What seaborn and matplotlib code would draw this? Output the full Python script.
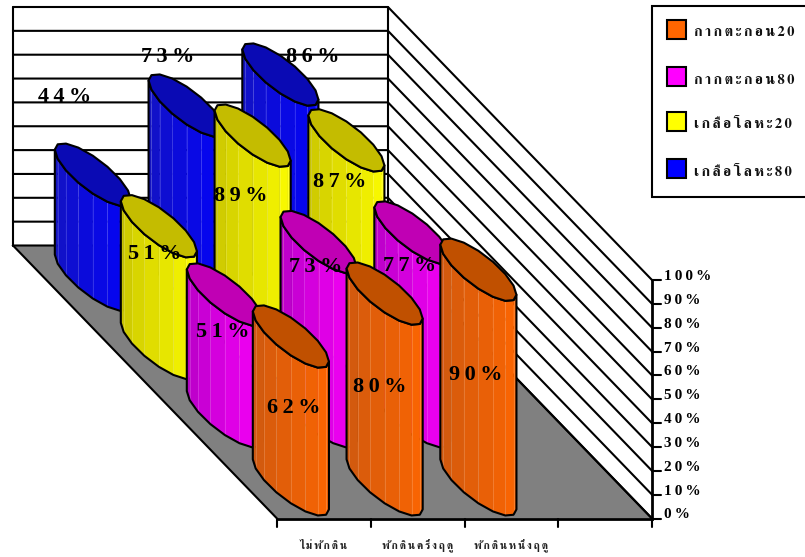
import math
import numpy as np
import matplotlib
matplotlib.use("Agg")
import matplotlib.pyplot as plt
from matplotlib.patches import Polygon, Rectangle
import seaborn as sns

# Data: percentage per treatment, one list per series, back row first
categories = ["ไม่พักดิน", "พักดินครึ่งฤดู", "พักดินหนึ่งฤดู"]
series_names = ["เกลือโลหะ80", "เกลือโลหะ20", "กากตะกอน80", "กากตะกอน20"]
salt80 = [44, 73, 86]
salt20 = [51, 89, 87]
sludge80 = [51, 73, 77]
sludge20 = [62, 80, 90]
series_values = [salt80, salt20, sludge80, sludge20]
y_ticks = [0, 10, 20, 30, 40, 50, 60, 70, 80, 90, 100]

base_colors = ["#0000FF", "#FFFF00", "#FF00FF", "#FF6600"]
top_colors = ["#0A0AB4", "#C4BC00", "#C000B4", "#C05000"]
dark_colors = ["#1414C0", "#C8C400", "#B400C4", "#CC5810"]

# Oblique projection of (category, depth, percent) onto figure pixels
X_FRONT, Y_FRONT = 277.0, 518.5
CAT_W, DEPTH_DX, DEPTH_DY = 93.75, 66.0, 68.25
PX_PER_PCT = 2.385
N_CATS, N_ROWS = 4, 4
RADIUS_U, RADIUS_D = 0.245, 0.46


def project(u, d, v=0.0):
    return (X_FRONT + u * CAT_W - d * DEPTH_DX,
            Y_FRONT - d * DEPTH_DY - v * PX_PER_PCT)


def tracked(text):
    """Open up letter spacing, leaving Thai vowel and tone marks on their base letter."""
    marks = {0x0E31} | set(range(0x0E34, 0x0E3B)) | set(range(0x0E47, 0x0E4F))
    out = ""
    for ch in text:
        if out and ord(ch) not in marks:
            out += "\u2009"
        out += ch
    return out


sns.set_theme(style="white")
SERIF = ["Liberation Serif", "DejaVu Serif"]
THAI = ["FreeSerif", "Liberation Serif", "DejaVu Sans"]
plt.rcParams["font.family"] = SERIF

fig = plt.figure(figsize=(8.05, 5.57), dpi=100, facecolor="white")
ax = fig.add_axes([0, 0, 1, 1])
ax.set_xlim(0, 805)
ax.set_ylim(557, 0)
ax.axis("off")

LINE = 1.5

# Floor
ax.add_patch(Polygon([project(0, N_ROWS), project(N_CATS, N_ROWS),
                      project(N_CATS, 0), project(0, 0)],
                     facecolor="#808080", edgecolor="none", zorder=1))
for a, b, lw in [((0, N_ROWS), (0, 0), LINE), ((N_CATS, N_ROWS), (N_CATS, 0), LINE),
                 ((0, 0), (N_CATS, 0), 2.0)]:
    xs, ys = zip(project(*a), project(*b))
    ax.plot(xs, ys, color="black", lw=lw, zorder=2, solid_capstyle="projecting")

# Back and side wall grid
for v in y_ticks:
    pts = [project(0, N_ROWS, v), project(N_CATS, N_ROWS, v), project(N_CATS, 0, v)]
    xs, ys = zip(*pts)
    ax.plot(xs, ys, color="black", lw=LINE, zorder=2)
for u, d in [(0, N_ROWS), (N_CATS, N_ROWS)]:
    xs, ys = zip(project(u, d, 0), project(u, d, 100))
    ax.plot(xs, ys, color="black", lw=LINE, zorder=2)

# Value axis ticks and labels
xs, ys = zip(project(N_CATS, 0, 0), project(N_CATS, 0, 100))
ax.plot(xs, ys, color="black", lw=2.0, zorder=2)
for v in y_ticks:
    x, y = project(N_CATS, 0, v)
    ax.plot([x, x + 9], [y, y], color="black", lw=1.5, zorder=2)
    ax.text(x + 12, y - 3.5, tracked(f"{v}%"), fontsize=11, fontweight="bold",
            family=SERIF, ha="left", va="center", color="black")

# Category ticks and labels
for i in range(N_CATS + 1):
    x, y = project(i, 0)
    ax.plot([x, x], [y, y + 8], color="black", lw=1.5, zorder=2)
for i, name in enumerate(categories):
    x, y = project(i + 0.5, 0)
    ax.text(x, 546, tracked(name), fontsize=7.8, fontweight="bold", ha="center", va="center",
            family=THAI, color="#222222")

# Cylinders, back row to front row
phi = math.atan2(RADIUS_D * DEPTH_DX, RADIUS_U * CAT_W)
front_t = np.linspace(math.pi - phi, 2 * math.pi - phi, 9)
ring_t = np.linspace(math.pi - phi, 3 * math.pi - phi, 17)[:-1]

for row, values in enumerate(series_values):
    depth = N_ROWS - row - 0.5
    strip_colors = sns.blend_palette([dark_colors[row], base_colors[row]], 8)
    for i, v in enumerate(values):
        cu = i + 0.5
        us = cu + RADIUS_U * np.cos(front_t)
        ds = depth + RADIUS_D * np.sin(front_t)
        low = [project(a, b, 0) for a, b in zip(us, ds)]
        high = [project(a, b, v) for a, b in zip(us, ds)]
        for k in range(8):
            ax.add_patch(Polygon([low[k], low[k + 1], high[k + 1], high[k]],
                                 facecolor=strip_colors[k], edgecolor=strip_colors[k],
                                 lw=0.3, zorder=3 + row))
            if k:
                xs, ys = zip(low[k], high[k])
                ax.plot(xs, ys, color="white", alpha=0.2, lw=0.6, zorder=3 + row)
        ax.add_patch(Polygon(low + high[::-1], facecolor="none", edgecolor="black",
                             lw=LINE, joinstyle="round", zorder=3 + row))
        ring = [project(cu + RADIUS_U * math.cos(t), depth + RADIUS_D * math.sin(t), v)
                for t in ring_t]
        ax.add_patch(Polygon(ring, facecolor=top_colors[row], edgecolor="black",
                             lw=LINE, joinstyle="round", zorder=3 + row))

# Value labels, nudged from the centre of each cylinder top
label_nudges = [
    [(-28, -78), (-19, -49), (32, -18)],
    [(-4, 28), (-12, 60), (-7, 42)],
    [(-2, 38), (-3, 25), (-3, 34)],
    [(3, 71), (-5, 93), (-3, 105)],
]
for row, values in enumerate(series_values):
    depth = N_ROWS - row - 0.5
    for i, v in enumerate(values):
        x, y = project(i + 0.5, depth, v)
        dx, dy = label_nudges[row][i]
        ax.text(x + dx, y + dy, tracked(f"{v}%"), fontsize=16, fontweight="bold",
                family=SERIF, ha="center", va="center", color="black", zorder=10)

# Legend box runs off the right edge of the figure
ax.add_patch(Rectangle((652, 6), 160, 191, facecolor="white", edgecolor="black",
                       lw=1.5, zorder=11))
legend_y = [20, 67, 112, 159]
for y, row in zip(legend_y, [3, 2, 1, 0]):
    ax.add_patch(Rectangle((667, y), 19, 19, facecolor=base_colors[row], edgecolor="black",
                           lw=1.5, zorder=12))
    ax.text(694, y + 13, tracked(series_names[row]), fontsize=10.5, fontweight="bold", ha="left",
            va="center", family=THAI, color="#111111", zorder=12)

fig.savefig("out.png", dpi=100)
